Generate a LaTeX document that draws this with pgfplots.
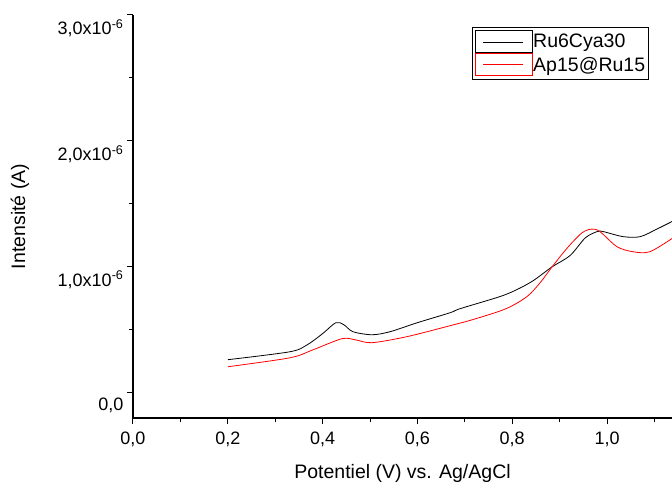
\documentclass[border=0pt]{standalone}
\usepackage{pgfplots}
\pgfplotsset{compat=1.18}
\usepackage{fontspec}
\setmainfont{Liberation Sans}
\begin{document}
\begin{tikzpicture}
\begin{axis}[
  name=ax,
  scale only axis,
  width=539pt, height=403pt,
  xmin=0, xmax=1.137,
  ymin=-0.2, ymax=3.0,
  axis x line*=bottom, axis y line*=left,
  axis line style={-, line width=1.1pt},
  tick align=outside,
  major tick length=6pt, minor tick length=3.5pt,
  every tick/.style={black, line width=1pt},
  xtick={0,0.2,0.4,0.6,0.8,1.0},
  xticklabels={{0,0},{0,2},{0,4},{0,6},{0,8},{1,0}},
  minor xtick={0.1,0.3,0.5,0.7,0.9,1.1},
  ytick={0,1,2,3},
  yticklabels={{0,0},{1,0x10\textsuperscript{-6}},{2,0x10\textsuperscript{-6}},{3,0x10\textsuperscript{-6}}},
  minor ytick={0.5,1.5,2.5},
  ticklabel style={font=\fontsize{18}{20}\selectfont},
  yticklabel style={yshift=-13pt},
  xticklabel style={yshift=-4pt},
  xlabel={Potentiel (V) vs. Ag/AgCl},
  ylabel={Intensité (A)},
  label style={font=\fontsize{19.5}{22}\selectfont},
  xlabel style={at={(axis description cs:0.5,0)}, anchor=north, yshift=-43pt},
  ylabel style={at={(axis description cs:-0.2096,0.5)}, anchor=center},
  legend style={at={(axis description cs:0.629,0.970)}, anchor=north west,
    draw=black, line width=0.8pt, font=\fontsize{19.5}{21}\selectfont,
    inner sep=3pt, nodes={inner sep=0pt}, row sep=0pt, column sep=0pt},
  legend cell align=left,
  legend image code/.code={
    \path (0pt,-11pt) rectangle (57pt,11pt);
    \draw[#1, line width=0.6pt] (7pt,0pt) -- (47pt,0pt);},
]
\addplot[black, line width=0.8pt, smooth] coordinates {
(0.200,0.263) (0.331,0.326) (0.367,0.380) (0.400,0.470) (0.428,0.557) (0.445,0.540) (0.464,0.485)
(0.504,0.461) (0.542,0.485) (0.600,0.557) (0.669,0.636) (0.690,0.668) (0.774,0.764)
(0.810,0.820) (0.844,0.890) (0.884,1.000) (0.922,1.090) (0.954,1.230) (0.979,1.280)
(0.992,1.280) (1.034,1.240) (1.070,1.240) (1.105,1.300) (1.137,1.360)
};
\addlegendentry{Ru6Cya30}
\addplot[red, line width=0.8pt, smooth] coordinates {
(0.200,0.207) (0.331,0.278) (0.380,0.342) (0.441,0.430) (0.470,0.420) (0.504,0.398)
(0.578,0.446) (0.669,0.533) (0.720,0.585) (0.787,0.668) (0.831,0.764) (0.859,0.875)
(0.884,1.000) (0.916,1.150) (0.947,1.270) (0.968,1.300) (0.985,1.280) (1.021,1.160)
(1.055,1.120) (1.090,1.120) (1.137,1.225)
};
\addlegendentry{Ap15@Ru15}
\end{axis}
\pgfresetboundingbox
\path ([xshift=-133pt,yshift=-64pt]ax.south west) rectangle ([yshift=15pt]ax.north east);
\end{tikzpicture}
\end{document}
